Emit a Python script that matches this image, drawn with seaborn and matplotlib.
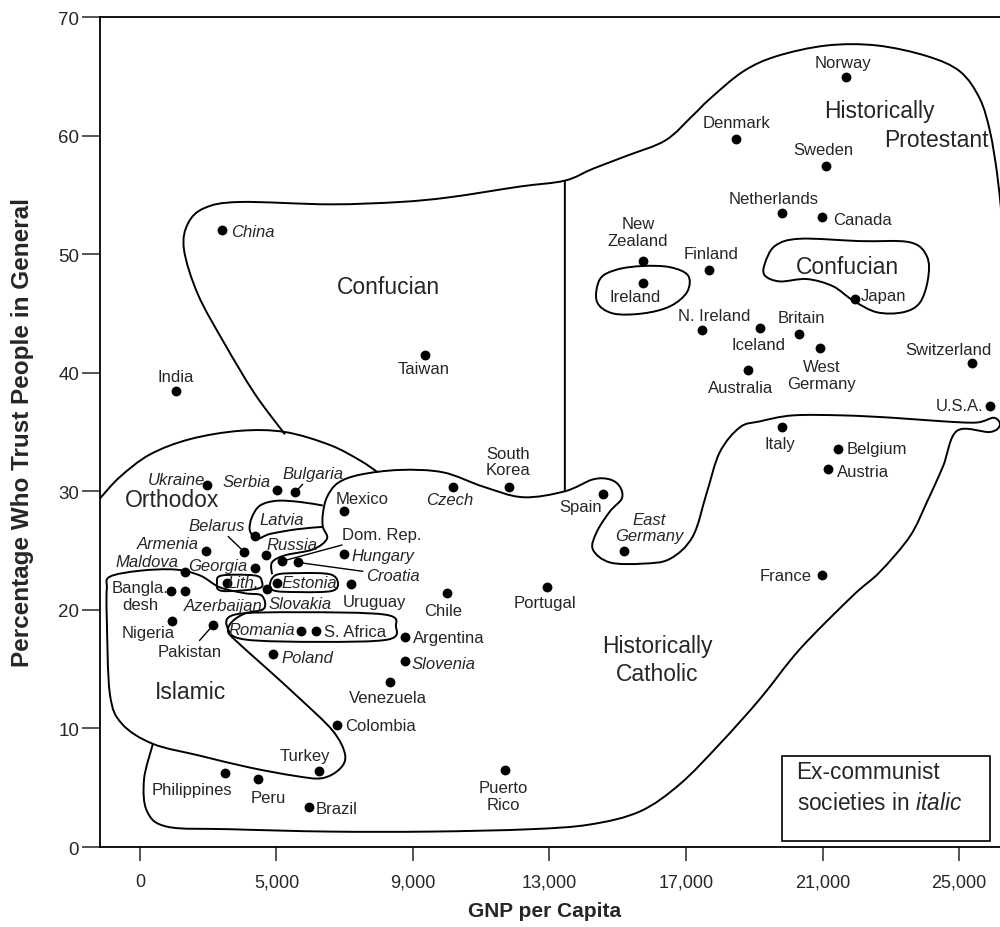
import numpy as np
import pandas as pd
import seaborn as sns
import matplotlib.pyplot as plt
from matplotlib.path import Path
from matplotlib.patches import PathPatch, Rectangle

# Countries, GNP per capita (US$) and percentage who trust people in general
countries = ['Norway', 'Denmark', 'Sweden', 'Netherlands', 'Canada', 'New\nZealand',
             'Finland', 'Ireland', 'Japan', 'N. Ireland', 'Iceland', 'Britain',
             'West\nGermany', 'Australia', 'Switzerland', 'U.S.A.', 'Italy', 'Belgium',
             'Austria', 'France', 'Spain', 'East\nGermany', 'South\nKorea', 'Czech',
             'Portugal', 'Puerto\nRico', 'China', 'Taiwan', 'India', 'Ukraine', 'Serbia',
             'Bulgaria', 'Mexico', 'Latvia', 'Belarus', 'Armenia', 'Russia', 'Dom. Rep.',
             'Croatia', 'Hungary', 'Maldova', 'Georgia', 'Lith.', 'Estonia', 'Slovakia',
             'Uruguay', 'Bangla.\ndesh', 'Azerbaijan', 'Nigeria', 'Pakistan', 'Romania',
             'S. Africa', 'Poland', 'Chile', 'Argentina', 'Slovenia', 'Venezuela',
             'Colombia', 'Turkey', 'Philippines', 'Peru', 'Brazil']
gnp = [21690, 18460, 21100, 19810, 20980, 15740, 17670, 15740, 21950, 17470, 19170,
       20310, 20920, 18810, 25380, 25900, 19810, 21450, 21160, 20980, 14570, 15180,
       11810, 10170, 12930, 11690, 3400, 9350, 2050, 2960, 5010, 5540, 6980, 4370,
       4050, 2930, 4690, 5160, 5630, 6980, 2320, 4370, 3550, 5010, 4720, 7180, 1910,
       2320, 1940, 3140, 5720, 6160, 4900, 10000, 8760, 8760, 8330, 6770, 6240, 3490,
       4460, 5950]
trust = [64.9, 59.7, 57.4, 53.5, 53.1, 49.4, 48.7, 47.6, 46.2, 43.6, 43.8, 43.3, 42.1,
         40.2, 40.8, 37.2, 35.4, 33.6, 31.9, 22.9, 29.8, 25.0, 30.4, 30.4, 21.9, 6.5,
         52.0, 41.5, 38.5, 30.5, 30.1, 29.9, 28.3, 26.2, 24.9, 25.0, 24.6, 24.1, 24.0,
         24.7, 23.2, 23.5, 22.3, 22.3, 21.8, 22.2, 21.6, 21.6, 19.1, 18.7, 18.2, 18.2,
         16.3, 21.4, 17.7, 15.7, 13.9, 10.3, 6.4, 6.2, 5.7, 3.4]
ex_communist = ['East\nGermany', 'Czech', 'China', 'Ukraine', 'Serbia', 'Bulgaria',
                'Latvia', 'Belarus', 'Armenia', 'Russia', 'Croatia', 'Hungary', 'Maldova',
                'Georgia', 'Lith.', 'Estonia', 'Slovakia', 'Azerbaijan', 'Romania',
                'Poland', 'Slovenia']

# label offsets from the dot, in pixels
label_dx = [-3, 1, -3, -8, 41, -5, 2, -8, 29, 12, -2, 2, 2, -7, -24, -30, -2, 39, 35, -36,
            -22, 25, -1, -3, -2, -1, 31, -1, 0, -30, -30, 18, 18, 27, -27, -38, 26, 100,
            95, 39, -38, -37, 16, 33, 33, 24, -31, 38, -24, -23, -39, 39, 34, -4, 44, 39,
            -2, 44, -14, -33, 10, 28]
label_dy = [15, 17, 17, 14, -2, 29, 16, -14, 4, 15, -17, 16, -27, -17, 14, 0, -16, 0, -3,
            0, -13, 23, 25, -13, -15, -26, -1, -14, 14, 6, 9, 19, 13, 17, 26, 7, 11, 27,
            -13, -1, 10, 3, 0, 0, -15, -18, -5, -15, -12, -26, 2, 0, -4, -17, 0, -3, -15,
            -1, 16, -16, -18, -2]
leader_lines = ['Belarus', 'Dom. Rep.', 'Croatia', 'Pakistan', 'Bulgaria']

# cultural zone outlines, (GNP in thousands, trust)
upper_zone = [(5.25, 34.8), (4.37, 38.2), (3.49, 42.4), (2.70, 46.6), (2.29, 50.4),
              (2.41, 52.6), (2.90, 53.9), (3.93, 54.4), (6.57, 54.2), (8.62, 54.4),
              (10.08, 54.8), (12.13, 55.7), (13.45, 56.2), (14.27, 57.2), (15.27, 58.3),
              (16.40, 59.6), (17.20, 61.7), (17.70, 63.1), (18.67, 65.4),
              (19.66, 66.7), (21.13, 67.6), (22.59, 67.6), (24.06, 66.7), (25.03, 65.4),
              (25.61, 63.1), (25.91, 60.3), (26.11, 56.9), (26.23, 53.8)]
divider = [(13.45, 56.2), (13.45, 30.0)]
orthodox_top = [(-0.17, 29.4), (0.41, 31.2), (1.29, 33.1), (2.47, 34.4), (3.93, 35.1),
                (5.25, 35.0), (6.57, 33.9), (7.45, 32.6), (7.97, 31.6)]
catholic_zone = [(4.87, 23.0), (4.87, 24.0), (5.25, 24.6), (6.07, 25.1), (6.48, 26.0),
                 (6.36, 27.0), (6.36, 28.1), (6.48, 29.5), (6.80, 30.7), (7.45, 31.4),
                 (8.62, 31.8), (9.88, 31.6), (11.05, 30.4), (12.22, 29.5), (13.45, 30.0),
                 (14.27, 31.0), (14.77, 31.0), (15.06, 30.4), (15.12, 29.4), (14.77, 28.3),
                 (14.39, 26.6), (14.27, 25.1), (14.77, 24.0), (15.74, 23.9), (16.53, 24.3),
                 (17.20, 26.2), (17.61, 29.9), (17.99, 33.3), (18.58, 35.4), (19.17, 35.9),
                 (20.13, 36.4), (21.60, 36.4), (23.06, 36.2), (24.53, 35.9), (25.52, 35.8),
                 (26.02, 36.2), (26.20, 35.6), (25.91, 35.0), (24.94, 35.1), (24.53, 32.1),
                 (24.06, 29.1), (23.56, 26.2), (22.68, 23.2), (21.89, 21.2), (20.34, 16.7),
                 (19.17, 12.5), (17.99, 8.7), (16.82, 5.3), (15.65, 3.0), (14.19, 1.9),
                 (12.43, 1.5), (9.50, 1.3), (6.57, 1.3), (3.64, 1.5), (1.82, 1.7),
                 (1.21, 3.0), (1.12, 5.7), (1.38, 8.7)]
latvia_loop = [(6.36, 28.8), (5.69, 29.1), (5.01, 29.2), (4.52, 28.8), (4.28, 27.8),
               (4.22, 26.7), (4.43, 26.0), (4.81, 26.4), (5.60, 26.8), (6.36, 27.0)]
islamic_zone = [(0.12, 22.8), (1.00, 23.3), (2.03, 23.4), (2.76, 22.9), (3.34, 21.9),
                (4.08, 21.4), (4.57, 21.2), (4.63, 20.1), (4.08, 19.7), (3.70, 19.0),
                (3.58, 18.2), (3.81, 17.4), (4.66, 15.2), (5.69, 12.5), (6.65, 9.8),
                (7.01, 7.8), (6.86, 6.6), (6.33, 5.8), (5.54, 6.0), (4.22, 6.7),
                (2.76, 7.7), (1.38, 8.7), (0.47, 10.4), (0.12, 12.9), (0.03, 19.2),
                (0.03, 21.8)]
romania_loop = [(3.78, 19.6), (5.69, 19.8), (8.18, 19.6), (8.50, 18.6), (8.27, 17.5),
                (6.27, 17.3), (4.08, 17.5), (3.58, 18.4)]
lith_loop = [(3.26, 22.3), (3.40, 22.9), (4.37, 22.9), (4.57, 22.4), (4.46, 21.8),
             (3.40, 21.6)]
estonia_loop = [(4.96, 22.9), (5.69, 23.1), (6.57, 23.0), (6.80, 22.3), (6.63, 21.6),
                (5.69, 21.5), (4.87, 21.7)]
ireland_loop = [(14.48, 47.9), (14.98, 48.7), (15.74, 49.0), (16.53, 48.9), (17.06, 48.2),
                (17.03, 46.8), (16.53, 45.6), (15.74, 45.0), (14.86, 45.0), (14.39, 46.0)]
japan_loop = [(19.31, 49.2), (19.61, 50.7), (20.34, 51.3), (22.10, 51.1), (23.56, 51.0),
              (24.06, 49.8), (24.09, 47.9), (23.85, 45.9), (23.36, 45.1), (22.59, 45.1),
              (21.89, 46.1), (21.30, 47.3), (20.54, 47.9), (19.75, 47.7), (19.31, 48.2)]

zone_names = ['Confucian', 'Orthodox', 'Islamic', 'Historically\nCatholic',
              'Historically', 'Protestant', 'Confucian']
zone_x = [8.27, 1.94, 2.47, 16.15, 22.68, 24.35, 21.72]
zone_y = [47.3, 29.3, 13.1, 15.8, 62.1, 59.7, 49.0]

tick_pos = [1000, 5000, 9000, 13000, 17000, 21000, 25000]
tick_labels = ['0', '5,000', '9,000', '13,000', '17,000', '21,000', '25,000']


def smooth_path(pts, closed):
    # Catmull-Rom through the outline points, drawn as cubic Bezier segments
    p = np.array(pts, dtype=float)
    p[:, 0] *= 1000
    n = len(p)
    if closed:
        ext = np.vstack([p[-1], p, p[0], p[1]])
        segs = n
    else:
        ext = np.vstack([p[0], p, p[-1]])
        segs = n - 1
    verts = [ext[1]]
    codes = [Path.MOVETO]
    for i in range(segs):
        p0, p1, p2, p3 = ext[i], ext[i + 1], ext[i + 2], ext[i + 3]
        verts += [p1 + (p2 - p0) / 6, p2 - (p3 - p1) / 6, p2]
        codes += [Path.CURVE4] * 3
    return Path(verts, codes)


sns.set_style('ticks')
plt.rcParams['font.family'] = ['Liberation Sans', 'DejaVu Sans']
plt.rcParams['mathtext.fontset'] = 'custom'
plt.rcParams['mathtext.rm'] = 'Liberation Sans'
plt.rcParams['mathtext.it'] = 'Liberation Sans:italic'

df = pd.DataFrame({'country': countries, 'gnp': gnp, 'trust': trust})

fig = plt.figure(figsize=(10, 9.28), dpi=100)
ax = fig.add_axes([0.1, 0.0862, 0.9, 0.8944])

outlines = [(upper_zone, False), (divider, False), (orthodox_top, False),
            (catholic_zone, False), (latvia_loop, False), (islamic_zone, True),
            (romania_loop, True), (lith_loop, True), (estonia_loop, True),
            (ireland_loop, True), (japan_loop, True)]
for pts, closed in outlines:
    ax.add_patch(PathPatch(smooth_path(pts, closed), fill=False, edgecolor='black',
                           lw=1.4, zorder=2))

sns.scatterplot(data=df, x='gnp', y='trust', color='black', s=50, linewidth=0,
                legend=False, ax=ax, zorder=3)

for i, name in enumerate(countries):
    style = 'italic' if name in ex_communist else 'normal'
    arrow = None
    if name in leader_lines:
        arrow = dict(arrowstyle='-', color='black', lw=1.0, shrinkA=0, shrinkB=3)
    ax.annotate(name, (gnp[i], trust[i]), xytext=(label_dx[i], label_dy[i]),
                textcoords='offset pixels', ha='center', va='center', fontsize=12,
                style=style, linespacing=1.15, arrowprops=arrow, zorder=4)

for name, zx, zy in zip(zone_names, zone_x, zone_y):
    ax.text(zx * 1000, zy, name, ha='center', va='center', fontsize=16.5,
            linespacing=1.25, zorder=4)

# legend box for italic labels
ax.add_patch(Rectangle((0.758, 0.007), 0.231, 0.103, transform=ax.transAxes,
                       facecolor='white', edgecolor='black', lw=1.2, zorder=5))
ax.text(0.774, 0.0904, 'Ex-communist', transform=ax.transAxes, ha='left',
        va='center', fontsize=16.3, zorder=6)
ax.text(0.774, 0.054, r'societies in $\mathit{italic}$', transform=ax.transAxes,
        ha='left', va='center', fontsize=16.3, zorder=6)

ax.set_xlim(-170, 26200)
ax.set_ylim(0, 70)
ax.set_xticks(tick_pos)
ax.set_xticklabels(tick_labels)
ax.set_yticks(range(0, 71, 10))
ax.tick_params(axis='x', direction='out', length=10, width=1.1, pad=9, labelsize=13)
ax.tick_params(axis='y', direction='out', length=13, width=1.1, pad=2, labelsize=13.5)
for side in ['left', 'bottom', 'top']:
    ax.spines[side].set_linewidth(1.3)
    ax.spines[side].set_color('black')
ax.spines['right'].set_visible(False)

ax.set_xlabel('GNP per Capita', fontsize=15, fontweight='bold', va='center')
ax.set_ylabel('Percentage Who Trust People in General', fontsize=17.5,
              fontweight='bold', va='center')
ax.xaxis.set_label_coords(0.494, -0.077)
ax.yaxis.set_label_coords(-0.086, 0.501)

fig.savefig('out.png', dpi=100)
